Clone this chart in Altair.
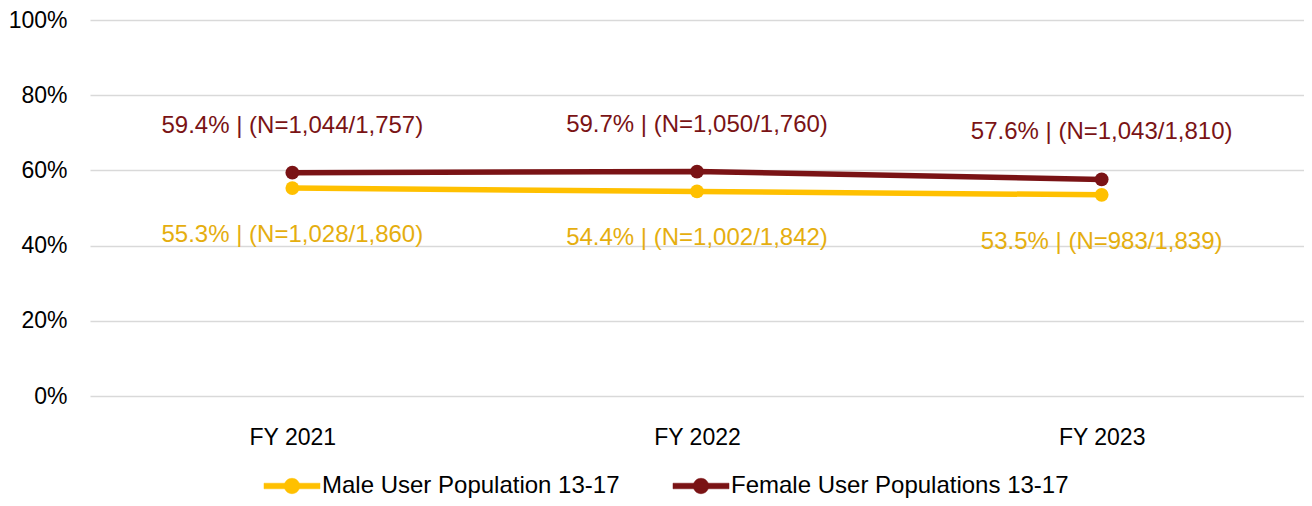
import altair as alt
import pandas as pd

years = ["FY 2021", "FY 2022", "FY 2023"]
series = ["Male User Population 13-17", "Female User Populations 13-17"]
male_pct = [55.3, 54.4, 53.5]
female_pct = [59.4, 59.7, 57.6]
male_n = ["1,028/1,860", "1,002/1,842", "983/1,839"]
female_n = ["1,044/1,757", "1,050/1,760", "1,043/1,810"]
colors = ["#FFC000", "#7A1315"]
text_colors = ["#E5AE0F", "#7A1315"]

rows = []
for s, pcts, ns in [(series[0], male_pct, male_n), (series[1], female_pct, female_n)]:
    for y, p, n in zip(years, pcts, ns):
        rows.append({"year": y, "series": s, "value": p / 100.0,
                     "label": f"{p:.1f}% | (N={n})"})
df = pd.DataFrame(rows)

FONT = "Liberation Sans"

x = alt.X("year:N", sort=years, title=None,
          scale=alt.Scale(type="point", padding=0.5),
          axis=alt.Axis(labelAngle=0, domain=False, ticks=False, labelPadding=30,
                        labelFontSize=23, labelColor="#000000", labelFont=FONT))
y = alt.Y("value:Q", title=None,
          scale=alt.Scale(domain=[0, 1], nice=False, zero=True),
          axis=alt.Axis(values=[0, 0.2, 0.4, 0.6, 0.8, 1.0], format=".0%",
                        domain=False, ticks=False, labelPadding=23,
                        labelFontSize=23, labelColor="#000000", labelFont=FONT,
                        gridColor="#D9D9D9", gridWidth=1.5))

legend_path = ("M-4,-0.4 L4,-0.4 L4,0.4 L-4,0.4 Z "
               "M-1.1,0 A1.1,1.1 0 1,1 1.1,0 A1.1,1.1 0 1,1 -1.1,0 Z")

cscale = alt.Scale(domain=series, range=colors)
legend = alt.Legend(title=None, orient="none", direction="horizontal",
                    legendX=190, legendY=454,
                    symbolType=legend_path, symbolSize=196,
                    symbolStrokeWidth=0.5, symbolOpacity=1,
                    labelOffset=18, columnPadding=52, labelLimit=600,
                    labelFont=FONT, labelFontSize=24, labelColor="#000000")
color = alt.Color("series:N", sort=series, scale=cscale, legend=legend)

base = alt.Chart(df)
points = base.mark_point(filled=True, size=190, opacity=1, shape="circle").encode(
    x=x, y=y, color=color)
lines = base.mark_line(strokeWidth=5.5).encode(x=x, y=y, color=color)

lab_m = base.transform_filter(alt.datum.series == series[0]).mark_text(
    dy=47, fontSize=24, font=FONT, color=text_colors[0], baseline="middle", align="center"
).encode(x=x, y=y, text="label:N")
lab_f = base.transform_filter(alt.datum.series == series[1]).mark_text(
    dy=-47, fontSize=24, font=FONT, color=text_colors[1], baseline="middle", align="center"
).encode(x=x, y=y, text="label:N")

chart = alt.layer(points, lines, lab_m, lab_f).properties(
    width=1214, height=376,
    background="white",
    autosize=alt.AutoSizeParams(type="none"),
    padding={"left": 82, "top": 12, "right": 0, "bottom": 102},
).configure_view(stroke=None)

chart.save("out.html", embed_options={"renderer": "svg", "actions": False})
